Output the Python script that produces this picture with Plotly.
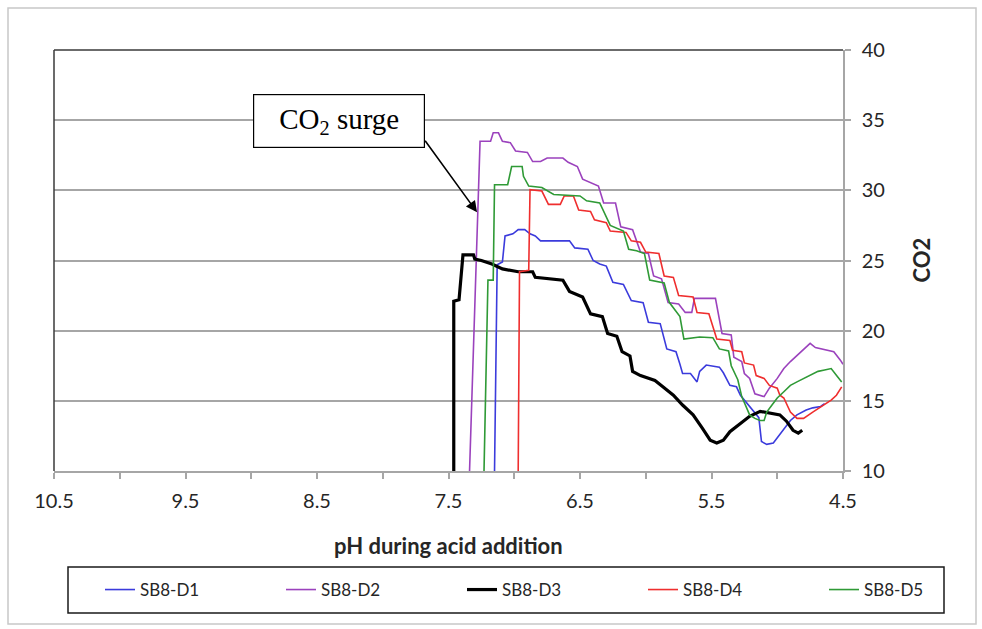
import plotly.graph_objects as go

# pH readings and CO2 response for each dose during acid addition
ph_d1 = [7.15, 7.13, 7.09, 7.07, 7.01, 6.97, 6.92, 6.88, 6.84, 6.80, 6.58, 6.54, 6.44, 6.40,
         6.35, 6.30, 6.25, 6.17, 6.11, 6.02, 5.98, 5.89, 5.84, 5.77, 5.74, 5.72, 5.66, 5.61,
         5.59, 5.54, 5.44, 5.41, 5.36, 5.31, 5.28, 5.25, 5.17, 5.14, 5.12, 5.08, 5.03, 4.99,
         4.95, 4.90, 4.85, 4.78, 4.73, 4.67, 4.64]
co2_d1 = [10.0, 24.7, 24.9, 26.75, 26.9, 27.2, 27.2, 26.9, 26.75, 26.4, 26.4, 25.9, 25.8, 25.0,
          24.75, 24.6, 23.45, 23.3, 22.15, 22.0, 20.6, 20.5, 18.7, 18.5, 17.6, 16.95, 16.95, 16.35,
          17.1, 17.55, 17.4, 17.0, 16.1, 16.0, 15.4, 15.05, 14.1, 13.8, 12.1, 11.9, 12.0, 12.5,
          13.05, 13.6, 14.0, 14.35, 14.5, 14.6, 14.8]

ph_d2 = [7.34, 7.26, 7.18, 7.16, 7.12, 7.09, 7.03, 6.99, 6.90, 6.86, 6.80, 6.75, 6.63, 6.59,
         6.52, 6.48, 6.36, 6.32, 6.23, 6.19, 6.10, 6.07, 6.04, 5.98, 5.94, 5.88, 5.83, 5.75,
         5.70, 5.65, 5.63, 5.47, 5.45, 5.42, 5.35, 5.33, 5.27, 5.25, 5.21, 5.17, 5.10, 5.06,
         5.00, 4.95, 4.90, 4.85, 4.80, 4.75, 4.71, 4.62, 4.57, 4.52, 4.50]
co2_d2 = [10.0, 33.5, 33.5, 34.1, 34.1, 33.5, 33.4, 32.8, 32.7, 32.05, 32.05, 32.3, 32.3, 32.0,
          31.7, 30.8, 30.3, 29.1, 29.1, 27.4, 27.2, 26.4, 25.6, 25.5, 23.9, 23.7, 22.0, 21.9,
          21.3, 21.3, 22.3, 22.3, 21.3, 19.8, 19.7, 18.1, 17.8, 16.95, 16.6, 15.5, 15.3, 15.9,
          16.6, 17.3, 17.8, 18.25, 18.7, 19.1, 18.8, 18.6, 18.5, 17.9, 17.6]

ph_d3 = [7.46, 7.46, 7.42, 7.39, 7.31, 7.30, 7.25, 7.17, 7.09, 6.97, 6.86, 6.84, 6.63, 6.58,
         6.48, 6.42, 6.33, 6.29, 6.22, 6.18, 6.12, 6.10, 6.04, 5.93, 5.87, 5.79, 5.72, 5.64,
         5.57, 5.51, 5.46, 5.41, 5.36, 5.28, 5.21, 5.13, 5.03, 4.98, 4.93, 4.88, 4.84, 4.81]
co2_d3 = [10.0, 22.1, 22.2, 25.4, 25.4, 25.1, 25.0, 24.75, 24.4, 24.2, 24.2, 23.8, 23.6, 22.8,
          22.4, 21.2, 21.0, 19.8, 19.6, 18.5, 18.2, 17.1, 16.8, 16.45, 16.0, 15.4, 14.7, 14.0,
          13.05, 12.2, 12.0, 12.2, 12.8, 13.4, 13.9, 14.25, 14.1, 14.0, 13.55, 12.9, 12.7, 12.9]

ph_d4 = [6.97, 6.96, 6.89, 6.88, 6.79, 6.74, 6.65, 6.62, 6.55, 6.51, 6.42, 6.39, 6.30, 6.27,
         6.15, 6.11, 6.04, 6.00, 5.90, 5.86, 5.79, 5.75, 5.64, 5.61, 5.52, 5.49, 5.46, 5.36,
         5.34, 5.27, 5.25, 5.18, 5.16, 5.10, 5.06, 5.00, 4.98, 4.95, 4.90, 4.85, 4.80, 4.73,
         4.65, 4.59, 4.55, 4.51]
co2_d4 = [10.0, 24.2, 24.3, 30.05, 29.95, 29.0, 29.0, 29.6, 29.6, 28.6, 28.5, 27.9, 27.7, 27.1,
          27.0, 26.4, 26.3, 25.6, 25.5, 23.9, 23.8, 22.5, 22.4, 21.3, 21.2, 20.2, 19.4, 19.3,
          18.6, 18.5, 17.7, 17.55, 16.8, 16.6, 16.1, 15.9, 15.4, 15.2, 14.2, 13.75, 13.75, 14.2,
          14.7, 15.05, 15.4, 16.0]

ph_d5 = [7.23, 7.20, 7.16, 7.15, 7.05, 7.02, 6.94, 6.93, 6.89, 6.79, 6.70, 6.50, 6.45, 6.35,
         6.27, 6.17, 6.13, 6.07, 6.01, 5.97, 5.86, 5.82, 5.74, 5.71, 5.59, 5.49, 5.44, 5.37,
         5.35, 5.30, 5.27, 5.21, 5.17, 5.13, 5.10, 5.08, 5.04, 5.00, 4.95, 4.90, 4.85, 4.80,
         4.75, 4.69, 4.64, 4.59, 4.54, 4.51]
co2_d5 = [10.0, 23.6, 23.6, 30.4, 30.4, 31.7, 31.7, 31.0, 30.3, 30.2, 29.7, 29.6, 29.25, 29.1,
          27.5, 27.1, 25.8, 25.7, 25.5, 23.6, 23.4, 22.0, 21.0, 19.4, 19.55, 19.5, 18.7, 18.55,
          17.5, 16.5, 15.3, 14.0, 13.75, 13.6, 13.6, 14.2, 14.7, 15.2, 15.65, 16.1, 16.35, 16.6,
          16.85, 17.1, 17.2, 17.3, 16.7, 16.35]

series_names = ["SB8-D1", "SB8-D2", "SB8-D3", "SB8-D4", "SB8-D5"]
ph_values = [ph_d1, ph_d2, ph_d3, ph_d4, ph_d5]
co2_values = [co2_d1, co2_d2, co2_d3, co2_d4, co2_d5]
colors = ["#3b3bdc", "#9b42bd", "#000000", "#ef2e2e", "#2f9a36"]
widths = [1.6, 1.6, 3.2, 1.6, 1.6]

x_ticks = [10.5, 9.5, 8.5, 7.5, 6.5, 5.5, 4.5]

FONT = "Lato, 'Open Sans', sans-serif"
TXT = "#262626"
GRID = "#a6a6a6"

W, H = 982, 629
L, R, T, B = 54, 139, 50, 158
pw, ph_ = W - L - R, H - T - B


def px_x(px):
    return (px - L) / pw


def px_y(py):
    return (H - B - py) / ph_


fig = go.Figure()
legend_ids = ["legend", "legend2", "legend3", "legend4", "legend5"]
for name, xs, ys, c, w, lg in zip(series_names, ph_values, co2_values, colors, widths, legend_ids):
    fig.add_trace(go.Scatter(x=xs, y=ys, mode="lines", name=name, legend=lg,
                             line=dict(color=c, width=w)))

# one legend per series, spaced evenly along a single row
legend_layout = {}
for i, lg in enumerate(legend_ids):
    legend_layout[lg] = dict(
        orientation="h", x=px_x(100 + 181 * i), xanchor="left",
        y=px_y(590), yanchor="middle",
        font=dict(family=FONT, size=17, color=TXT),
        bgcolor="rgba(0,0,0,0)", borderwidth=0, itemclick=False,
    )

fig.update_layout(
    width=W, height=H,
    margin=dict(l=L, r=R, t=T, b=B),
    paper_bgcolor="white", plot_bgcolor="white",
    font=dict(family=FONT, size=20, color=TXT),
    showlegend=True,
    **legend_layout,
)

fig.update_xaxes(
    range=[10.5, 4.5], tickvals=x_ticks, ticktext=[f"{v:.1f}" for v in x_ticks],
    showgrid=False, zeroline=False,
    showline=True, linecolor=GRID, linewidth=1.5,
    ticks="outside", ticklen=6, tickwidth=1.5, tickcolor=GRID,
    ticklabelstandoff=5,
    minor=dict(tickvals=[10.0, 9.0, 8.0, 7.0, 6.0, 5.0], ticks="outside",
               ticklen=6, tickwidth=1.5, tickcolor=GRID, showgrid=False),
    tickfont=dict(family=FONT, size=20, color=TXT),
)
fig.update_yaxes(
    range=[10, 40], dtick=5, side="right",
    showgrid=True, gridcolor=GRID, gridwidth=1.5, zeroline=False,
    showline=True, linecolor=GRID, linewidth=1.5,
    ticks="outside", ticklen=6, tickwidth=1.5, tickcolor=GRID,
    ticklabelstandoff=7,
    tickfont=dict(family=FONT, size=20, color=TXT),
)

# plot-area border on the top and left edges
fig.add_shape(type="line", xref="paper", yref="paper", x0=0, x1=1, y0=1, y1=1,
              line=dict(color="#3a3a3a", width=1.5))
fig.add_shape(type="line", xref="paper", yref="paper", x0=0, x1=0, y0=0, y1=1,
              line=dict(color="#3a3a3a", width=1.5))

# outer chart frame
fig.add_shape(type="rect", xref="paper", yref="paper",
              x0=px_x(8), x1=px_x(976), y0=px_y(624), y1=px_y(8),
              line=dict(color="#c8c8c8", width=1.5), layer="below")

# legend frame
fig.add_shape(type="rect", xref="paper", yref="paper",
              x0=px_x(68), x1=px_x(944), y0=px_y(613), y1=px_y(567),
              line=dict(color="#1a1a1a", width=1.5))

# axis titles
fig.add_annotation(text="<b>pH during acid addition</b>", xref="paper", yref="paper",
                   x=0.5, y=px_y(545), xanchor="center", yanchor="middle", showarrow=False,
                   font=dict(family=FONT, size=22, color=TXT))
fig.add_annotation(text="<b>CO2</b>", xref="paper", yref="paper",
                   x=px_x(921), y=0.5, xanchor="center", yanchor="middle",
                   showarrow=False, textangle=-90,
                   font=dict(family=FONT, size=22, color=TXT))

# callout box and arrow
fig.add_annotation(text="CO<sub>2</sub> surge", xref="x", yref="y",
                   x=8.333, y=34.96, showarrow=False,
                   width=168, height=50, borderwidth=1.2, borderpad=1,
                   bordercolor="#000000", bgcolor="white",
                   font=dict(family="'Liberation Serif', 'Times New Roman', serif",
                             size=29, color="#000000"))
fig.add_annotation(text="", xref="x", yref="y", x=7.283, y=28.44,
                   axref="pixel", ayref="pixel", ax=-53, ay=-73,
                   showarrow=True, arrowhead=2, arrowsize=1.4, arrowwidth=1.6,
                   arrowcolor="#000000")

fig.write_html("out.html")
